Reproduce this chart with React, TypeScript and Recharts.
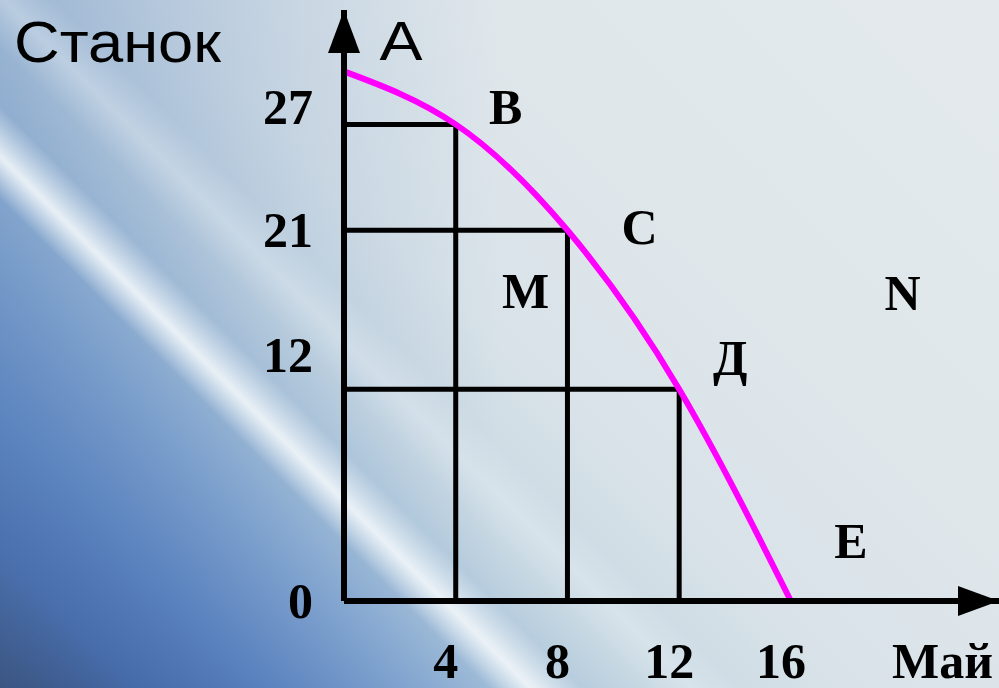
import React from 'react';
import { ComposedChart, Line, XAxis, YAxis, ReferenceLine, ReferenceDot, LabelList } from 'recharts';

// production possibilities: machines (Станок) vs butter (Май)
const mayValues = [0, 4, 8, 12, 16];
const stanokValues = [30, 27, 21, 12, 0];
const pointNames = ['A', 'B', 'C', 'Д', 'E'];

const xTicks = [4, 8, 12, 16];
const yTicks = [0, 12, 21, 27];

// extra points off the curve
const extraNames = ['M', 'N'];
const extraMay = [6.5, 20];
const extraStanok = [17.6, 17.5];

const X_MAX = 23.45;
const Y_MAX = 33.48;

const serif = '"Liberation Serif", "Times New Roman", serif';
const sans = '"Liberation Sans", Arial, sans-serif';

const data = mayValues.map((m, i) => ({ may: m, stanok: stanokValues[i], name: pointNames[i] }));

// label nudges in px for the curve point letters
const nameOffsets: Record<string, [number, number]> = {
  A: [57, -11],
  B: [50, 0],
  C: [72, 14],
  'Д': [51, -14],
  E: [60, -43],
};

// y tick labels are not centred on their lines in the original
const yTickShift: Record<number, number> = { 0: 17, 12: -17, 21: 17, 27: 0 };

const XTick = (props: any) => {
  const { x, y, payload } = props;
  return (
    <text x={x - 10} y={y + 77} textAnchor="middle" fontFamily={serif} fontWeight="bold" fontSize={50} fill="#000">
      {payload.value}
    </text>
  );
};

const YTick = (props: any) => {
  const { x, y, payload } = props;
  return (
    <text x={x - 31} y={y + (yTickShift[payload.value] ?? 17)} textAnchor="end" fontFamily={serif} fontWeight="bold" fontSize={50} fill="#000">
      {payload.value}
    </text>
  );
};

const PointName = (props: any) => {
  const { x, y, value } = props;
  const [dx, dy] = nameOffsets[value] || [0, 0];
  if (value === 'A') {
    return (
      <text x={x + dx} y={y + dy} textAnchor="middle" fontFamily={sans} fontSize={56} textLength={43} lengthAdjust="spacingAndGlyphs" fill="#000">
        {value}
      </text>
    );
  }
  return (
    <text x={x + dx} y={y + dy} textAnchor="middle" fontFamily={serif} fontWeight="bold" fontSize={50} fill="#000">
      {value}
    </text>
  );
};

const UpArrow = (props: any) => {
  const { cx, cy } = props;
  return <polygon points={`${cx},${cy} ${cx - 16},${cy + 43} ${cx + 16},${cy + 43}`} fill="#000" />;
};

const RightArrow = (props: any) => {
  const { cx, cy } = props;
  return <polygon points={`${cx},${cy} ${cx - 41},${cy - 15} ${cx - 41},${cy + 15}`} fill="#000" />;
};

const background = [
  'linear-gradient(45deg, rgba(255,255,255,0) 29%, rgba(242,247,250,0.9) 31.5%, rgba(255,255,255,0) 34.5%)',
  'linear-gradient(45deg, rgba(255,255,255,0) 38%, rgba(240,245,248,0.35) 41%, rgba(255,255,255,0) 44%)',
  'linear-gradient(to right, rgba(95,135,190,0.45) 0%, rgba(95,135,190,0.15) 30%, rgba(95,135,190,0) 50%)',
  'linear-gradient(45deg, #1e2c50 0%, #3a5e9f 8%, #5a82bf 16%, #88aad2 25%, #a9c3da 31%, #c6d7e2 38%, #d8e2e8 50%, #e0e7eb 70%, #e3e9ec 100%)',
].join(', ');

export default function App() {
  return (
    <div style={{ position: 'absolute', left: 0, top: 0, width: 999, height: 688, background, overflow: 'hidden' }}>
      <ComposedChart width={999} height={688} data={data} margin={{ top: 10, right: 0, bottom: 0, left: 0 }}>
        <XAxis
          dataKey="may"
          type="number"
          domain={[0, X_MAX]}
          ticks={xTicks}
          tick={<XTick />}
          tickLine={false}
          tickSize={0}
          tickMargin={0}
          height={87}
          axisLine={{ stroke: '#000', strokeWidth: 6 }}
          allowDataOverflow
          label={{
            content: () => (
              <text x={993} y={678} textAnchor="end" fontFamily={serif} fontWeight="bold" fontSize={50} fill="#000">
                Май
              </text>
            ),
          }}
        />
        <YAxis
          type="number"
          domain={[0, Y_MAX]}
          ticks={yTicks}
          tick={<YTick />}
          tickLine={false}
          tickSize={0}
          tickMargin={0}
          width={344}
          axisLine={{ stroke: '#000', strokeWidth: 6 }}
          allowDataOverflow
          label={{
            content: () => (
              <text x={14} y={62} fontFamily={sans} fontSize={57} textLength={207} lengthAdjust="spacingAndGlyphs" fill="#000">
                Станок
              </text>
            ),
          }}
        />
        {data.slice(1, 4).map((d) => (
          <ReferenceLine
            key={`h${d.may}`}
            segment={[{ x: 0, y: d.stanok }, { x: d.may, y: d.stanok }]}
            stroke="#000"
            strokeWidth={5}
            ifOverflow="visible"
          />
        ))}
        {data.slice(1, 4).map((d) => (
          <ReferenceLine
            key={`v${d.may}`}
            segment={[{ x: d.may, y: 0 }, { x: d.may, y: d.stanok }]}
            stroke="#000"
            strokeWidth={5}
            ifOverflow="visible"
          />
        ))}
        <Line
          dataKey="stanok"
          type="natural"
          stroke="#ff00ff"
          strokeWidth={6}
          dot={false}
          activeDot={false}
          isAnimationActive={false}
        >
          <LabelList dataKey="name" content={<PointName />} />
        </Line>
        {extraNames.map((n, i) => (
          <ReferenceDot
            key={n}
            x={extraMay[i]}
            y={extraStanok[i]}
            r={0}
            fill="none"
            stroke="none"
            ifOverflow="visible"
            label={{ value: n, position: 'center', fontFamily: serif, fontWeight: 'bold', fontSize: 50, fill: '#000' }}
          />
        ))}
        <ReferenceDot x={0} y={Y_MAX} r={1} ifOverflow="visible" shape={<UpArrow />} />
        <ReferenceDot x={X_MAX} y={0} r={1} ifOverflow="visible" shape={<RightArrow />} />
      </ComposedChart>
    </div>
  );
}
